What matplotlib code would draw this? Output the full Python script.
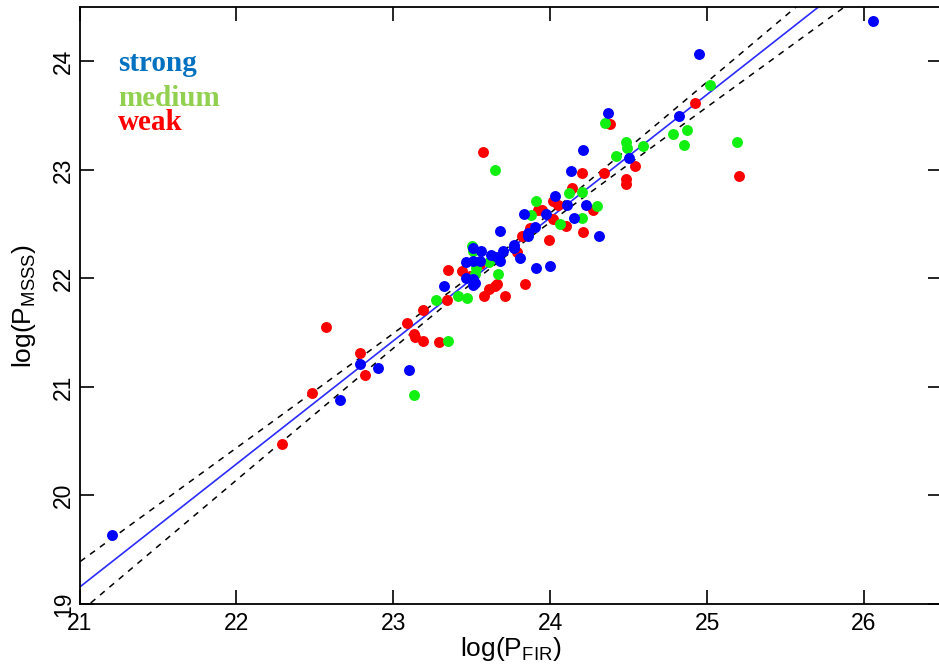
import matplotlib
matplotlib.use('Agg')
import matplotlib.pyplot as plt
import numpy as np

# log(P_FIR), log(P_MSSS), per class
strong_x = [21.21, 26.06, 24.95, 24.82, 24.37, 24.50, 24.21, 24.13, 24.03, 24.11,
            24.23, 23.83, 23.97, 24.15, 23.90, 23.86, 23.86, 24.31, 23.77, 23.77,
            23.81, 23.70, 23.68, 23.68, 23.91, 24.00, 23.62, 23.66, 23.51, 23.56,
            23.46, 23.51, 23.55, 23.46, 23.51, 23.51, 23.52, 23.32, 22.79, 22.90,
            22.66, 23.10]
strong_y = [19.64, 24.37, 24.07, 23.50, 23.52, 23.11, 23.18, 22.99, 22.76, 22.68,
            22.68, 22.59, 22.59, 22.56, 22.47, 22.42, 22.39, 22.39, 22.31, 22.28,
            22.19, 22.25, 22.16, 22.44, 22.10, 22.11, 22.22, 22.20, 22.28, 22.25,
            22.15, 22.16, 22.16, 22.00, 21.99, 21.94, 21.96, 21.93, 21.21, 21.17,
            20.88, 21.16]

medium_x = [25.02, 24.78, 24.87, 24.85, 25.19, 24.35, 24.48, 24.49, 24.59, 24.42,
            24.12, 24.20, 23.91, 24.30, 23.88, 24.20, 24.06, 23.65, 23.50, 23.51,
            23.61, 23.53, 23.52, 23.67, 23.27, 23.41, 23.47, 23.35, 23.13]
medium_y = [23.78, 23.33, 23.37, 23.23, 23.26, 23.43, 23.26, 23.20, 23.22, 23.13,
            22.79, 22.80, 22.71, 22.67, 22.58, 22.56, 22.50, 23.00, 22.30, 22.25,
            22.15, 22.10, 22.04, 22.04, 21.80, 21.84, 21.82, 21.42, 20.93]

weak_x = [24.92, 25.20, 24.38, 24.54, 24.20, 24.34, 24.48, 24.48, 24.14, 24.02,
          24.05, 24.27, 23.92, 23.95, 24.02, 24.10, 23.87, 23.82, 24.21, 23.99,
          23.79, 23.84, 23.71, 23.57, 23.35, 23.44, 23.49, 23.55, 23.66, 23.65,
          23.61, 23.58, 23.34, 23.19, 23.09, 23.13, 23.14, 23.19, 23.29, 22.57,
          22.79, 22.82, 22.48, 22.29]
weak_y = [23.62, 22.94, 23.42, 23.04, 22.97, 22.97, 22.92, 22.87, 22.83, 22.71,
          22.68, 22.63, 22.63, 22.63, 22.55, 22.48, 22.46, 22.39, 22.43, 22.35,
          22.24, 21.95, 21.84, 23.16, 22.08, 22.07, 22.02, 22.13, 21.95, 21.93,
          21.90, 21.84, 21.80, 21.71, 21.59, 21.49, 21.46, 21.42, 21.41, 21.55,
          21.31, 21.11, 20.94, 20.47]

# regression line and its confidence band
slope = 1.135
intercept = -4.68
band_c = 0.085
band_d = 0.15
band_xm = 23.7

plt.rcParams['font.family'] = ['Liberation Sans', 'DejaVu Sans']

fig = plt.figure(figsize=(9.39, 6.65), dpi=100)
ax = fig.add_axes([0.0847, 0.0917, 0.919, 0.8977])

ax.scatter(weak_x, weak_y, s=62, color='#ff0000', linewidths=0, zorder=3)
ax.scatter(medium_x, medium_y, s=62, color='#11f011', linewidths=0, zorder=3)
ax.scatter(strong_x, strong_y, s=62, color='#0000ff', linewidths=0, zorder=3)

xx = np.linspace(20.5, 27, 300)
fit = intercept + slope * xx
half = band_c * np.sqrt(band_d + (xx - band_xm) ** 2)
ax.plot(xx, fit, color='#2b2bff', lw=1.2, zorder=2)
ax.plot(xx, fit + half, color='black', lw=1.1, ls=(0, (4, 4)), zorder=2)
ax.plot(xx, fit - half, color='black', lw=1.1, ls=(0, (4, 4)), zorder=2)

ax.set_xlim(21, 26.5)
ax.set_ylim(19, 24.5)
ax.set_xticks([21, 22, 23, 24, 25, 26])
ax.set_yticks([19, 20, 21, 22, 23, 24])
ax.tick_params(direction='in', length=10, width=1.2, labelsize=16.5,
               top=True, right=True, pad=6)
ax.tick_params(axis='y', pad=3)
plt.setp(ax.get_yticklabels(), rotation=90, va='center')
for s in ax.spines.values():
    s.set_linewidth(1.3)

ax.set_xlabel(r'log(P$_{\mathregular{FIR}}$)', fontsize=19, labelpad=0)
ax.set_ylabel(r'log(P$_{\mathregular{MSSS}}$)', fontsize=19, labelpad=10)

lab_font = dict(family='Liberation Serif', weight='bold', fontsize=21,
                transform=ax.transAxes, va='center', ha='left')
ax.text(0.0446, 0.906, 'strong', color='#0070c0', **lab_font)
ax.text(0.0446, 0.8476, 'medium', color='#92d050', **lab_font)
ax.text(0.0446, 0.807, 'weak', color='#ff0000', **lab_font)

fig.savefig('out.png', dpi=100)
